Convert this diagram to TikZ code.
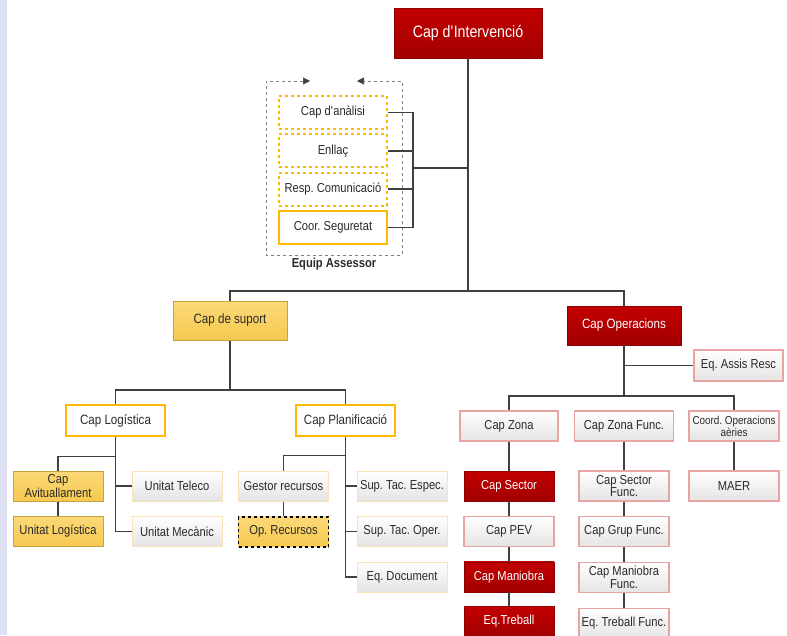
\documentclass[tikz,border=0pt]{standalone}
\usepackage{fontspec}
\setmainfont{Liberation Sans}[FakeStretch=0.86]
\usetikzlibrary{positioning, arrows.meta}
\definecolor{stripcol}{HTML}{DDE1F1}
\definecolor{linegray}{HTML}{404040}
\definecolor{textgray}{HTML}{2A2A2A}
\definecolor{redtop}{HTML}{C30000}
\definecolor{redbot}{HTML}{A20000}
\definecolor{redline}{HTML}{8E0000}
\definecolor{goldtop}{HTML}{FBD978}
\definecolor{goldbot}{HTML}{F6C94F}
\definecolor{goldline}{HTML}{C8A13C}
\definecolor{orangeline}{HTML}{FFB700}
\definecolor{paleorange}{HTML}{FBE2B4}
\definecolor{pinkline}{HTML}{E9A3A3}
\definecolor{greybot}{HTML}{E4E4E4}
\tikzstyle{redbox} = [
	rectangle,
	minimum width=90pt,
	minimum height=30pt,
	inner sep=1pt,
	align=center,
	draw=redline,
	top color=redtop,
	bottom color=redbot,
	text=white,
	font=\fontsize{13}{11}\selectfont
]
\tikzstyle{goldbox} = [
	rectangle,
	minimum width=90pt,
	minimum height=30pt,
	inner sep=1pt,
	align=center,
	draw=goldline,
	line width=1pt,
	top color=goldtop,
	bottom color=goldbot,
	text=textgray,
	font=\fontsize{13}{11}\selectfont
]
\tikzstyle{orangebox} = [
	rectangle,
	minimum width=99pt,
	minimum height=31pt,
	align=center,
	draw=orangeline,
	line width=2.5pt,
	fill=white,
	text=textgray,
	font=\fontsize{13.5}{12}\selectfont
]
\tikzstyle{advisor} = [
	rectangle,
	minimum width=108pt,
	minimum height=33pt,
	inner sep=1pt,
	align=center,
	draw=orangeline,
	line width=1.8pt,
	fill=white,
	text=textgray,
	font=\fontsize{13}{12}\selectfont
]
\tikzstyle{greybox} = [
	rectangle,
	minimum width=90pt,
	minimum height=30pt,
	inner sep=1pt,
	align=center,
	draw=paleorange,
	line width=1pt,
	top color=white,
	bottom color=greybot,
	text=textgray,
	font=\fontsize{13}{11}\selectfont
]
\tikzstyle{pinkbox} = [
	rectangle,
	minimum width=90pt,
	minimum height=30pt,
	inner sep=1pt,
	align=center,
	draw=pinkline,
	line width=1.3pt,
	top color=white,
	bottom color=greybot,
	text=textgray,
	font=\fontsize{13}{11}\selectfont
]
\tikzstyle{link} = [draw=linegray, line width=1.4pt]
\tikzstyle{frame} = [draw=gray, dashed, line width=0.6pt]
\tikzstyle{tip} = [{Triangle[length=7pt,width=7pt,color=linegray]}-{Triangle[length=7pt,width=7pt,color=linegray]}]

\frenchspacing

\begin{document}
\begin{tikzpicture}[x=1pt, y=-1pt, node distance=14.5pt]

	\useasboundingbox (0,0) rectangle (787,635);
	\fill [stripcol] (0,0) rectangle (7,635);

	\node (interv) [redbox, minimum width=148pt, minimum height=50pt, font=\fontsize{16.5}{18}\selectfont] at (468,33) {Cap d\textquotesingle Intervenció};

	% equip assessor
	\node (analisi) [advisor, dashed] at (333,112.5) {Cap d\textquotesingle anàlisi};
	\node (enllac) [advisor, dashed, below=3.5pt of analisi] {Enllaç};
	\node (comunic) [advisor, dashed, below=3.5pt of enllac] {Resp. Comunicació};
	\node (seguretat) [advisor, below=3.5pt of comunic] {Coor. Seguretat};
	\draw [frame, tip] (310,81) -- (266,81) -- (266,255) -- (402,255) -- (402,81) -- (357,81);
	\node (equip) [text=textgray, font=\bfseries\fontsize{13}{14}\selectfont] at (334,264) {Equip Assessor};

	\coordinate (asbus) at (413,168);
	\draw [link] (analisi.east) -- (analisi.east -| asbus) -- (seguretat.east -| asbus) -- (seguretat.east);
	\draw [link] (enllac.east) -- (enllac.east -| asbus);
	\draw [link] (comunic.east) -- (comunic.east -| asbus);
	\draw [link] (asbus) -- (asbus -| interv.south);

	\coordinate (topbar) at (468,291);
	\draw [link] (interv.south) -- (topbar);

	\node (suport) [goldbox, minimum width=114pt, minimum height=39pt, font=\fontsize{13.5}{12}\selectfont] at (230,320.5) {Cap de suport};
	\node (opers) [redbox, minimum width=114pt, minimum height=39pt, font=\fontsize{13.5}{12}\selectfont] at (624,325.5) {Cap Operacions};
	\draw [link] (suport.north) -- (suport.north |- topbar) -- (opers.north |- topbar) -- (opers.north);

	% suport
	\node (logistica) [orangebox] at (115.5,420.5) {Cap Logística};
	\node (planif) [orangebox] at (345.5,420.5) {Cap Planificació};
	\coordinate (suportbar) at (230,390);
	\draw [link] (suport) -- (suportbar);
	\draw [link] (logistica.north) |- (suportbar) -| (planif.north);

	\node (aviu) [goldbox] at (58,486) {Cap\\Avituallament};
	\node (unitlog) [goldbox, below=of aviu] {Unitat Logística};
	\node (teleco) [greybox] at (177,486) {Unitat Teleco};
	\node (mecanic) [greybox, below=of teleco] {Unitat Mecànic};

	\draw [link] (logistica.south) |- (mecanic.west);
	\draw [link] (logistica.south |- teleco.west) -- (teleco.west);
	\draw [link] (logistica.south) ++(0,19) -| (aviu.north);
	\draw [link] (aviu) -- (unitlog);

	\node (gestor) [greybox] at (283.5,486) {Gestor recursos};
	\node (oprec) [goldbox, draw=black, dashed, line width=1.5pt, below=of gestor] {Op. Recursos};
	\node (espec) [greybox] at (402,486) {Sup. Tac. Espec.};
	\node (oper) [greybox, below=of espec] {Sup. Tac. Oper.};
	\node (doc) [greybox, below=of oper] {Eq. Document};

	\draw [link] (planif.south) |- (doc.west);
	\draw [link] (planif.south |- espec.west) -- (espec.west);
	\draw [link] (planif.south |- oper.west) -- (oper.west);
	\draw [link] (planif.south) ++(0,18) -| (gestor.north);
	\draw [link] (gestor) -- (oprec);

	% operacions
	\node (assis) [pinkbox, minimum width=89pt, minimum height=31pt] at (738.5,365.5) {Eq. Assis Resc};
	\node (zona) [pinkbox, minimum width=98pt] at (509,426) {Cap Zona};
	\node (zonaf) [pinkbox, minimum width=99pt] at (624,426) {Cap Zona Func.};
	\node (coord) [pinkbox, font=\fontsize{11.5}{10.5}\selectfont] at (734,426) {Coord. Operacions\\aèries};
	\coordinate (opsbar) at (624,396);
	\draw [link] (opers) -- (opsbar);
	\draw [link] (opers.south |- assis.west) -- (assis.west);
	\draw [link] (zona.north) |- (opsbar) -| (coord.north);

	\node (sector) [redbox] at (509,486) {Cap Sector};
	\node (pev) [pinkbox, below=of sector] {Cap PEV};
	\node (maniobra) [redbox, below=of pev] {Cap Maniobra};
	\node (treball) [redbox, below=of maniobra] {Eq.Treball};

	\node (sectorf) [pinkbox] at (624,486) {Cap Sector\\Func.};
	\node (grupf) [pinkbox, below=of sectorf] {Cap Grup Func.};
	\node (maniobraf) [pinkbox, below=of grupf] {Cap Maniobra\\Func.};
	\node (treballf) [pinkbox, below=of maniobraf] {Eq. Treball Func.};

	\node (maer) [pinkbox] at (734,486) {MAER};

	\draw [link] (zona) -- (sector) -- (pev) -- (maniobra) -- (treball);
	\draw [link] (zonaf) -- (sectorf) -- (grupf) -- (maniobraf) -- (treballf);
	\draw [link] (coord) -- (maer);

\end{tikzpicture}
\end{document}
